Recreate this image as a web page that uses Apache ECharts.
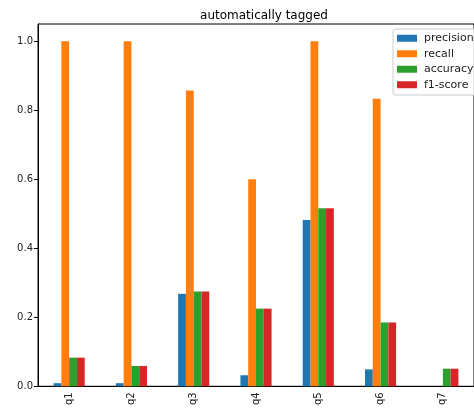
<!DOCTYPE html>
<html><head><meta charset="utf-8">
<script src="https://cdn.jsdelivr.net/npm/echarts@6/dist/echarts.min.js"></script>
<style>html,body{margin:0;padding:0;background:#fff}#c{width:474px;height:408px}</style>
</head><body><div id="c"></div>
<script>
const categories = ['q1','q2','q3','q4','q5','q6','q7'];
const precision = [0.009, 0.009, 0.268, 0.032, 0.482, 0.049, 0];
const recall    = [1.0, 1.0, 0.857, 0.6, 1.0, 0.833, 0];
const accuracy  = [0.083, 0.059, 0.275, 0.225, 0.516, 0.185, 0.051];
const f1score   = [0.083, 0.059, 0.275, 0.225, 0.516, 0.185, 0.051];
const yTicks = [0, 0.2, 0.4, 0.6, 0.8, 1.0];

const font = 'DejaVu Sans';
const chart = echarts.init(document.getElementById('c'));
const mk = (name, data, color) => ({
  name, type: 'bar', data, itemStyle: {color}, barGap: 0, barCategoryGap: '50%', animation: false
});
chart.setOption({
  animation: false,
  title: {text: 'automatically tagged', left: 259, top: 5, textAlign: 'center',
    textStyle: {fontFamily: font, fontSize: 12, fontWeight: 'normal', color: '#000'}},
  legend: {
    orient: 'vertical', left: 393, top: 29, itemWidth: 20, itemHeight: 7, itemGap: 3,
    icon: 'rect', borderColor: '#ccc', borderWidth: 1, borderRadius: 3, padding: [3, 10, 4, 4],
    backgroundColor: 'rgba(255,255,255,0.8)',
    textStyle: {fontFamily: font, fontSize: 11, lineHeight: 12.5, color: '#222', padding: [0, 0, 0, 2]},
    data: ['precision', 'recall', 'accuracy', 'f1-score']
  },
  grid: {left: 38, right: -7, top: 24, bottom: 21, show: true, borderColor: '#000', borderWidth: 1, containLabel: false},
  xAxis: {
    type: 'category', data: categories,
    axisLine: {lineStyle: {color: '#000'}},
    axisTick: {alignWithLabel: true, length: 4, lineStyle: {color: '#000'}},
    axisLabel: {rotate: 90, fontFamily: font, fontSize: 10, color: '#222', margin: 6}
  },
  yAxis: {
    type: 'value', min: 0, max: 1.05, interval: 0.2,
    splitLine: {show: false},
    axisLine: {show: true, lineStyle: {color: '#000'}},
    axisTick: {show: true, length: 4, lineStyle: {color: '#000'}},
    axisLabel: {fontFamily: font, fontSize: 10, color: '#222', margin: 5, showMaxLabel: false,
      formatter: v => yTicks.some(t => Math.abs(t - v) < 1e-9) ? v.toFixed(1) : ''}
  },
  series: [
    mk('precision', precision, '#1f77b4'),
    mk('recall', recall, '#ff7f0e'),
    mk('accuracy', accuracy, '#2ca02c'),
    mk('f1-score', f1score, '#d62728')
  ]
});
</script></body></html>
